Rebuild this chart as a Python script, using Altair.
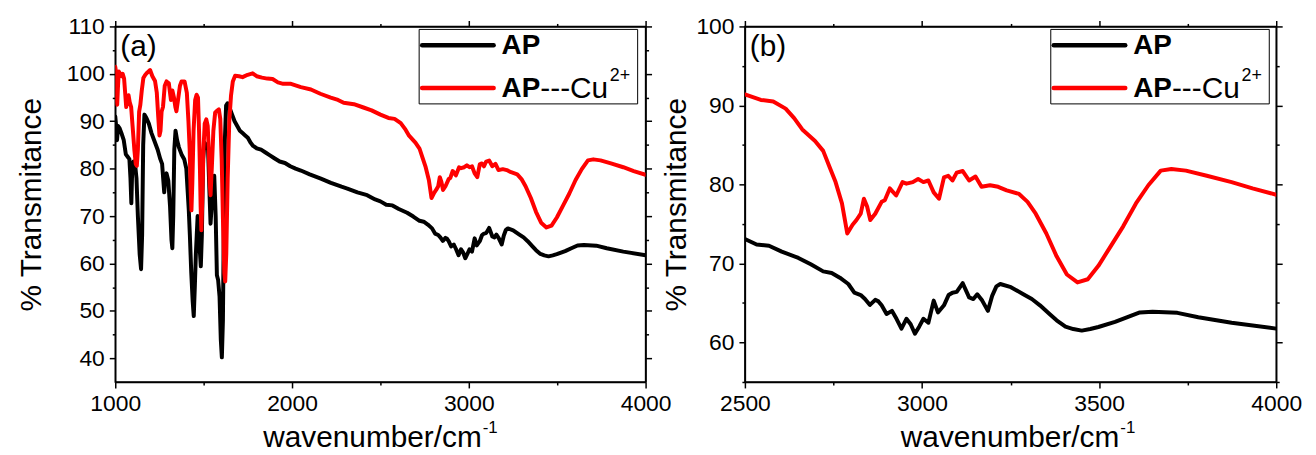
import json
import altair as alt
import pandas as pd

# ---------------- data ----------------
# AP (black trace)
ap_wn = [1000, 1005, 1010, 1016, 1025, 1035, 1048, 1060, 1070, 1080, 1086, 1091, 1096, 1103,
         1112, 1120, 1128, 1138, 1146, 1152, 1158, 1165, 1175, 1190, 1205, 1220, 1240, 1255,
         1265, 1272, 1277, 1283, 1290, 1300, 1310, 1318, 1323, 1328, 1334, 1341, 1350, 1360,
         1375, 1390, 1402, 1410, 1416, 1422, 1430, 1438, 1444, 1450, 1456, 1461, 1466, 1472,
         1478, 1484, 1490, 1497, 1505, 1515, 1525, 1532, 1539, 1545, 1553, 1560, 1568, 1575,
         1582, 1590, 1597, 1603, 1609, 1614, 1620, 1627, 1635, 1645, 1660, 1675, 1690, 1705,
         1720, 1735, 1750, 1765, 1780, 1800, 1825, 1850, 1875, 1900, 1930, 1960, 1990, 2020,
         2050, 2100, 2163, 2220, 2280, 2313, 2370, 2425, 2470, 2500, 2533, 2568, 2604, 2651,
         2686, 2721, 2745, 2768, 2792, 2809, 2827, 2839, 2853, 2868, 2877, 2886, 2900, 2915,
         2928, 2942, 2956, 2968, 2980, 2992, 3004, 3018, 3033, 3045, 3062, 3075, 3086, 3098,
         3115, 3125, 3133, 3145, 3156, 3170, 3186, 3198, 3210, 3221, 3251, 3286, 3310, 3333,
         3360, 3380, 3405, 3427, 3451, 3475, 3498, 3545, 3580, 3615, 3651, 3721, 3780, 3874,
         4000]
ap_t = [91.0, 89.0, 86.0, 89.0, 88.5, 87.5, 86.0, 83.0, 82.5, 82.0, 78.0, 72.7, 80.0, 81.5,
        81.0, 78.0, 70.0, 62.0, 58.8, 66.0, 85.0, 91.4, 90.8, 89.5, 87.5, 86.0, 84.0, 82.0,
        81.0, 77.5, 75.0, 78.5, 79.0, 77.5, 72.0, 65.0, 63.2, 70.0, 84.0, 88.0, 86.0, 84.5,
        83.0, 82.0, 80.0, 75.0, 71.2, 66.0, 58.0, 52.0, 48.9, 55.0, 62.0, 66.0, 70.0, 68.0,
        63.0, 59.4, 66.0, 82.0, 85.5, 85.0, 84.0, 76.0, 68.4, 72.0, 76.0, 78.5, 70.0, 57.5,
        56.5, 53.0, 44.0, 40.2, 48.0, 68.0, 86.0, 93.3, 93.8, 93.0, 91.5, 90.0, 89.0, 88.0,
        87.5, 87.0, 86.5, 85.5, 84.8, 84.3, 84.0, 83.4, 82.8, 82.2, 81.5, 81.2, 80.5, 80.0,
        79.6, 78.8, 77.9, 77.0, 76.2, 75.8, 75.0, 74.4, 73.5, 73.1, 72.4, 72.25, 71.5, 70.7,
        69.9, 69.0, 68.8, 68.2, 67.4, 66.3, 66.0, 65.5, 64.75, 65.4, 65.2, 64.7, 63.6, 64.0,
        63.0, 61.75, 63.0, 62.3, 61.1, 62.0, 63.0, 62.5, 65.3, 63.8, 64.7, 66.0, 66.3, 66.4,
        67.5, 66.5, 65.7, 65.5, 66.1, 65.3, 64.0, 65.9, 67.1, 67.4, 67.0, 66.1, 65.5, 64.7,
        63.6, 62.8, 62.0, 61.7, 61.5, 61.7, 61.96, 62.6, 63.2, 63.8, 63.9, 63.75, 63.2, 62.5,
        61.75]

# AP---Cu2+ (red trace)
cu_wn = [1000, 1004, 1008, 1011, 1015, 1020, 1028, 1036, 1042, 1050, 1056, 1062, 1068, 1075,
         1082, 1090, 1098, 1108, 1116, 1122, 1128, 1135, 1142, 1150, 1159, 1170, 1182, 1197,
         1210, 1225, 1235, 1243, 1250, 1256, 1262, 1270, 1280, 1290, 1303, 1315, 1323, 1332,
         1340, 1346, 1355, 1366, 1375, 1392, 1405, 1414, 1421, 1426, 1431, 1436, 1443, 1452,
         1460, 1468, 1474, 1479, 1483, 1487, 1492, 1499, 1506, 1515, 1523, 1529, 1534, 1539,
         1546, 1555, 1565, 1575, 1586, 1594, 1602, 1610, 1617, 1622, 1628, 1636, 1645, 1655,
         1665, 1678, 1700, 1720, 1749, 1777, 1800, 1830, 1860, 1890, 1920, 1950, 1994, 2050,
         2107, 2160, 2219, 2260, 2292, 2350, 2404, 2450, 2500, 2545, 2580, 2615, 2639, 2662,
         2698, 2721, 2739, 2756, 2774, 2789, 2804, 2815, 2827, 2836, 2845, 2854, 2868, 2886,
         2895, 2909, 2927, 2945, 2956, 2974, 2989, 3004, 3018, 3033, 3048, 3062, 3074, 3086,
         3098, 3115, 3133, 3151, 3168, 3192, 3215, 3239, 3274, 3298, 3321, 3351, 3380, 3409,
         3439, 3468, 3498, 3533, 3568, 3604, 3639, 3674, 3704, 3745, 3804, 3874, 3933, 4000]
cu_t = [101.5, 100.5, 95.0, 93.5, 97.0, 100.5, 100.0, 99.5, 100.0, 99.0, 96.0, 93.0, 94.5, 95.5,
        94.0, 93.0, 89.0, 84.0, 81.0, 80.6, 84.0, 92.0, 93.5, 96.5, 99.1, 99.8, 100.3, 100.8,
        99.5, 98.5, 96.0, 91.0, 87.0, 88.0, 92.0, 93.0, 97.5, 98.4, 98.0, 94.5, 96.5, 95.0,
        93.0, 92.1, 94.5, 97.5, 98.4, 98.4, 96.0, 90.0, 84.0, 76.0, 71.2, 77.0, 88.0, 94.5,
        95.6, 95.0, 88.0, 80.0, 72.0, 67.0, 73.0, 84.0, 89.5, 90.4, 89.0, 84.0, 77.0, 74.4,
        80.0, 88.0, 91.8, 92.2, 92.5, 90.5, 82.0, 68.0, 58.0, 56.2, 62.0, 78.0, 90.0, 95.5,
        98.4, 99.6, 99.5, 99.3, 99.8, 100.1, 99.5, 99.2, 99.0, 98.9, 98.2, 97.9, 97.9, 97.2,
        96.7, 95.8, 95.0, 94.5, 93.9, 93.6, 92.9, 92.3, 91.4, 90.7, 90.5, 89.6, 88.4, 86.96,
        85.5, 84.25, 82.2, 80.3, 77.6, 73.8, 74.9, 75.5, 76.3, 78.2, 77.2, 75.5, 76.3, 77.8,
        78.0, 79.5, 78.6, 80.3, 80.1, 80.3, 80.7, 80.3, 80.5, 79.0, 78.2, 80.9, 81.1, 80.5,
        81.5, 81.7, 80.5, 81.0, 79.7, 79.9, 79.7, 79.25, 78.8, 77.8, 76.3, 73.8, 70.9, 68.6,
        67.6, 68.0, 69.7, 72.2, 74.7, 77.6, 79.9, 81.75, 81.96, 81.75, 81.1, 80.3, 79.5, 78.7]

series_names = ["AP", "AP---Cu"]
series_sup = "2+"
series_colors = ["#000000", "#ff0000"]

panel_labels = ["(a)", "(b)"]
x_domains = [[1000, 4000], [2500, 4000]]
y_domains = [[35, 110], [55, 100]]
x_major = [[1000, 2000, 3000, 4000], [2500, 3000, 3500, 4000]]
x_minor = [[1500, 2500, 3500], [2750, 3250, 3750]]
y_major = [[40, 50, 60, 70, 80, 90, 100, 110], [60, 70, 80, 90, 100]]
y_minor = [[45, 55, 65, 75, 85, 95, 105], [55, 65, 75, 85, 95]]
x_title = "wavenumber/cm"
x_title_sup = "-1"
y_title = "% Transmitance"

FONT = "Liberation Sans"
W = [534, 535]
H = 358
Y_TITLE_PAD = [20, 4]
LW = 4


def is_major(vals):
    return "indexof(%s, datum.value) >= 0" % json.dumps(vals)


def text_layer(txt, x, y, size, weight="normal", align="left", baseline="alphabetic"):
    return alt.Chart(pd.DataFrame({"t": [txt]})).mark_text(
        font=FONT, fontSize=size, fontWeight=weight, align=align, baseline=baseline,
        color="black"
    ).encode(text="t:N", x=alt.value(x), y=alt.value(y))


def make_panel(i):
    xs = alt.Scale(domain=x_domains[i], nice=False, zero=False)
    ys = alt.Scale(domain=y_domains[i], nice=False, zero=False)
    xvals = sorted(x_major[i] + x_minor[i])
    yvals = sorted(y_major[i] + y_minor[i])
    xt = is_major(x_major[i])
    yt = is_major(y_major[i])
    xsize = {"condition": {"test": xt, "value": 6}, "value": 3}
    ysize = {"condition": {"test": yt, "value": 6}, "value": 3}

    bottom = alt.Axis(orient="bottom", values=xvals, format="d", title=None,
                      labelExpr=f"{xt} ? datum.label : ''", tickSize=xsize,
                      labelFlush=False, labelOverlap=False, labelPadding=5)
    left = alt.Axis(orient="left", values=yvals, format="d", title=y_title,
                    labelExpr=f"{yt} ? datum.label : ''", tickSize=ysize,
                    labelOverlap=False, labelPadding=5, titlePadding=Y_TITLE_PAD[i],
                    titleFont=FONT, titleFontSize=30, titleFontWeight="normal",
                    titleColor="black")
    top = alt.Axis(orient="top", values=xvals, labels=False, title=None, tickSize=xsize)
    right = alt.Axis(orient="right", values=yvals, labels=False, title=None, tickSize=ysize)

    xmin = x_domains[i][0]
    df_ap = pd.DataFrame({"wn": ap_wn, "T": ap_t})
    df_cu = pd.DataFrame({"wn": cu_wn, "T": cu_t})
    df_ap = df_ap[df_ap.wn >= xmin]
    df_cu = df_cu[df_cu.wn >= xmin]

    line_ap = alt.Chart(df_ap).mark_line(
        color=series_colors[0], strokeWidth=LW, clip=True, strokeJoin="round", strokeCap="round"
    ).encode(
        x=alt.X("wn:Q", scale=xs, axis=bottom),
        y=alt.Y("T:Q", scale=ys, axis=left),
    )
    line_cu = alt.Chart(df_cu).mark_line(
        color=series_colors[1], strokeWidth=LW, clip=True, strokeJoin="round", strokeCap="round"
    ).encode(
        x=alt.X("wn:Q", scale=xs, axis=None),
        y=alt.Y("T:Q", scale=ys, axis=None),
    )
    mirror = alt.Chart(pd.DataFrame({"wn": x_domains[i], "T": y_domains[i]})).mark_point(
        opacity=0).encode(
        x=alt.X("wn:Q", scale=xs, axis=top),
        y=alt.Y("T:Q", scale=ys, axis=right),
    )

    # legend (drawn by hand: bold "AP" and superscript)
    lx = 306 if i == 0 else 308
    box = alt.Chart(pd.DataFrame({"k": [0]})).mark_rect(
        fill="white", stroke="black", strokeWidth=1).encode(
        x=alt.value(lx), x2=alt.value(lx + 220), y=alt.value(3), y2=alt.value(78))
    leg_black = alt.Chart(pd.DataFrame({"k": [0]})).mark_rule(
        color=series_colors[0], strokeWidth=4.5, strokeCap="round").encode(
        x=alt.value(lx + 3), x2=alt.value(lx + 75), y=alt.value(19))
    leg_red = alt.Chart(pd.DataFrame({"k": [0]})).mark_rule(
        color=series_colors[1], strokeWidth=4.5, strokeCap="round").encode(
        x=alt.value(lx + 3), x2=alt.value(lx + 75), y=alt.value(62))
    tx = lx + 83
    t1 = text_layer(series_names[0], tx, 20, 28, "bold", baseline="middle")
    t2 = text_layer(series_names[0], tx, 63, 28, "bold", baseline="middle")
    t3 = text_layer(series_names[1][2:], tx + 39, 63, 30, baseline="middle")
    t4 = text_layer(series_sup, tx + 39 + 70, 50, 18, baseline="middle")

    plab = text_layer(panel_labels[i], 5, 30, 30)

    # x-axis title with superscript
    tcx = 369 if i == 0 else 377
    xt1 = text_layer(x_title, tcx, H + 65, 30, align="right")
    xt2 = text_layer(x_title_sup, tcx + 1, H + 51, 17)

    return alt.layer(line_ap, line_cu, mirror, box, leg_black, leg_red, t1, t2, t3, t4,
                     plab, xt1, xt2).resolve_axis(x="independent", y="independent").properties(
        width=W[i], height=H)


chart = alt.hconcat(make_panel(0), make_panel(1), spacing=100, bounds="flush").configure_view(
    stroke="black", strokeWidth=1.5
).configure_axis(
    domainColor="black", domainWidth=1.5, tickColor="black", tickWidth=1.5,
    labelFont=FONT, labelFontSize=23, labelColor="black", grid=False
).properties(
    padding={"left": 7, "top": 5, "right": 5, "bottom": 5}
)

chart.save("out.html", embed_options={"renderer": "svg", "actions": False})
